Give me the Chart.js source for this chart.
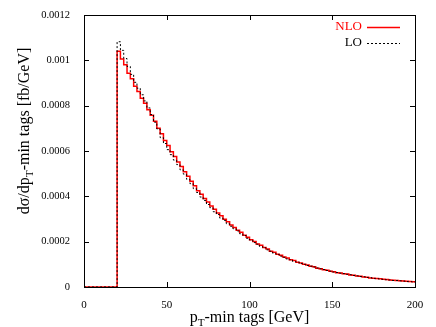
<!DOCTYPE html>
<html>
<head>
<meta charset="utf-8">
<script src="https://cdn.jsdelivr.net/npm/chart.js@4"></script>
<style>
    html, body { margin: 0; padding: 0; background: #fff; }
    canvas { display: block; }
</style>
</head>
<body>
<canvas id="chart" width="436" height="327"></canvas>
<script>
// histogram: 2 GeV bins from 0 to 200, values in 1e-6 fb/GeV
const binWidth = 2;
const xTicks = [0, 50, 100, 150, 200];
const yTicks = [0, 0.0002, 0.0004, 0.0006, 0.0008, 0.001, 0.0012];
const yTickLabels = ["0", "0.0002", "0.0004", "0.0006", "0.0008", "0.001", "0.0012"];

const nloValues = [
    0, 0, 0, 0, 0, 0, 0, 0, 0, 0,
    1040, 1006, 980, 943, 919, 886, 862, 833, 811, 782,
    758, 731, 700, 676, 646, 624, 597, 576, 551, 532,
    509, 489, 466, 447, 425, 409, 390, 375, 357, 343,
    326, 314, 299, 288, 273, 263, 250, 241, 228, 220,
    209, 201, 190, 184, 174, 168, 158, 153, 144, 140,
    132, 128, 120, 117, 109, 106, 100, 97, 91, 89,
    83, 81, 76, 74, 69, 67, 63, 62, 58, 57,
    53, 52, 48, 47, 44, 43, 40, 39, 37, 36,
    34, 33, 31, 30, 29, 28, 26, 25, 24, 23,
];

const loValues = [
    0, 0, 0, 0, 0, 0, 0, 0, 0, 0,
    1082, 1044, 1008, 973, 938, 903, 877, 848, 821, 790,
    761, 727, 697, 659, 633, 606, 584, 560, 540, 517,
    498, 475, 456, 434, 417, 397, 382, 364, 350, 332,
    320, 304, 294, 279, 268, 257, 247, 235, 227, 215,
    207, 196, 189, 179, 173, 164, 158, 149, 144, 136,
    131, 124, 120, 113, 110, 104, 100, 95, 92, 88,
    84, 80, 77, 73, 70, 66, 64, 61, 59, 56,
    54, 51, 49, 46, 45, 42, 41, 38, 37, 35,
    34, 32, 31, 29, 29, 27, 26, 24, 24, 22,
];

const FONT = "'Liberation Serif', 'DejaVu Serif', serif";

function toSteps(values) {
    const pts = values.map((v, i) => ({ x: i * binWidth, y: v * 1e-6 }));
    pts.push({ x: values.length * binWidth, y: values[values.length - 1] * 1e-6 });
    return pts;
}

// draws text runs, some of them as subscripts
function drawRuns(ctx, runs, size, align) {
    const sub = size * 0.7;
    let total = 0;
    runs.forEach((r) => {
        ctx.font = `${r.sub ? sub : size}px ${FONT}`;
        r.w = ctx.measureText(r.t).width;
        total += r.w;
    });
    let x = align === "center" ? -total / 2 : 0;
    ctx.textAlign = "left";
    ctx.textBaseline = "alphabetic";
    runs.forEach((r) => {
        ctx.font = `${r.sub ? sub : size}px ${FONT}`;
        ctx.fillText(r.t, x, r.sub ? size * 0.25 : 0);
        x += r.w;
    });
}

const framePlugin = {
    id: "frame",
    afterDraw(chart) {
        const { ctx, chartArea: a, scales } = chart;
        const xs = scales.x;
        const ys = scales.y;
        ctx.save();
        ctx.strokeStyle = "#000";
        ctx.lineWidth = 1;
        ctx.strokeRect(Math.round(a.left) + 0.5, Math.round(a.top) + 0.5,
            Math.round(a.right - a.left), Math.round(a.bottom - a.top));

        const tl = 5;
        ctx.beginPath();
        xTicks.forEach((v) => {
            const px = Math.round(xs.getPixelForValue(v)) + 0.5;
            ctx.moveTo(px, a.bottom);
            ctx.lineTo(px, a.bottom - tl);
            ctx.moveTo(px, a.top);
            ctx.lineTo(px, a.top + tl);
        });
        yTicks.forEach((v) => {
            const py = Math.round(ys.getPixelForValue(v)) + 0.5;
            ctx.moveTo(a.left, py);
            ctx.lineTo(a.left + tl, py);
            ctx.moveTo(a.right, py);
            ctx.lineTo(a.right - tl, py);
        });
        ctx.stroke();

        // axis titles
        ctx.fillStyle = "#000";
        ctx.save();
        ctx.translate((a.left + a.right) / 2, 322);
        drawRuns(ctx, [{ t: "p" }, { t: "T", sub: true }, { t: "-min tags [GeV]" }], 16, "center");
        ctx.restore();

        ctx.save();
        ctx.translate(29, 131);
        ctx.rotate(-Math.PI / 2);
        drawRuns(ctx, [{ t: "d\u03c3/dp" }, { t: "T", sub: true }, { t: "-min tags [fb/GeV]" }], 16, "center");
        ctx.restore();

        // legend
        const items = [
            { label: "NLO", color: "#ff0000", dash: [], y: 27, width: 1.5 },
            { label: "LO", color: "#000", dash: [2, 2], y: 43, width: 1 },
        ];
        ctx.font = `13px ${FONT}`;
        ctx.textAlign = "right";
        ctx.textBaseline = "middle";
        items.forEach((it) => {
            ctx.fillStyle = it.color;
            ctx.fillText(it.label, 362, it.y);
            ctx.beginPath();
            ctx.strokeStyle = it.color;
            ctx.lineWidth = it.width;
            ctx.setLineDash(it.dash);
            ctx.moveTo(367, it.y + 0.5);
            ctx.lineTo(400, it.y + 0.5);
            ctx.stroke();
        });
        ctx.restore();
    },
};

new Chart(document.querySelector("#chart"), {
    type: "line",
    data: {
        datasets: [
            {
                label: "NLO",
                data: toSteps(nloValues),
                borderColor: "#ff0000",
                borderWidth: 1.5,
                stepped: "before",
                pointRadius: 0,
                fill: false,
                order: 2,
            },
            {
                label: "LO",
                data: toSteps(loValues),
                borderColor: "#000",
                borderWidth: 1,
                borderDash: [2, 2],
                stepped: "before",
                pointRadius: 0,
                fill: false,
                order: 1,
            },
        ],
    },
    options: {
        responsive: false,
        animation: false,
        devicePixelRatio: 1,
        layout: { padding: { top: 15, right: 21, left: 0, bottom: 0 } },
        plugins: {
            legend: { display: false },
            tooltip: { enabled: false },
        },
        scales: {
            x: {
                type: "linear",
                min: 0,
                max: 200,
                grid: { display: false },
                border: { display: false },
                afterBuildTicks: (s) => { s.ticks = xTicks.map((v) => ({ value: v })); },
                ticks: {
                    color: "#000",
                    padding: 4,
                    maxRotation: 0,
                    font: { family: FONT, size: 11 },
                    callback: (v) => String(v),
                },
                afterFit: (s) => { s.height = 40; },
            },
            y: {
                type: "linear",
                min: 0,
                max: 0.0012,
                grid: { display: false },
                border: { display: false },
                afterBuildTicks: (s) => { s.ticks = yTicks.map((v) => ({ value: v })); },
                ticks: {
                    color: "#000",
                    padding: 6,
                    font: { family: FONT, size: 10.5 },
                    callback: (v, i) => yTickLabels[i],
                },
                afterFit: (s) => { s.width = 84; },
            },
        },
    },
    plugins: [framePlugin],
});
</script>
</body>
</html>
